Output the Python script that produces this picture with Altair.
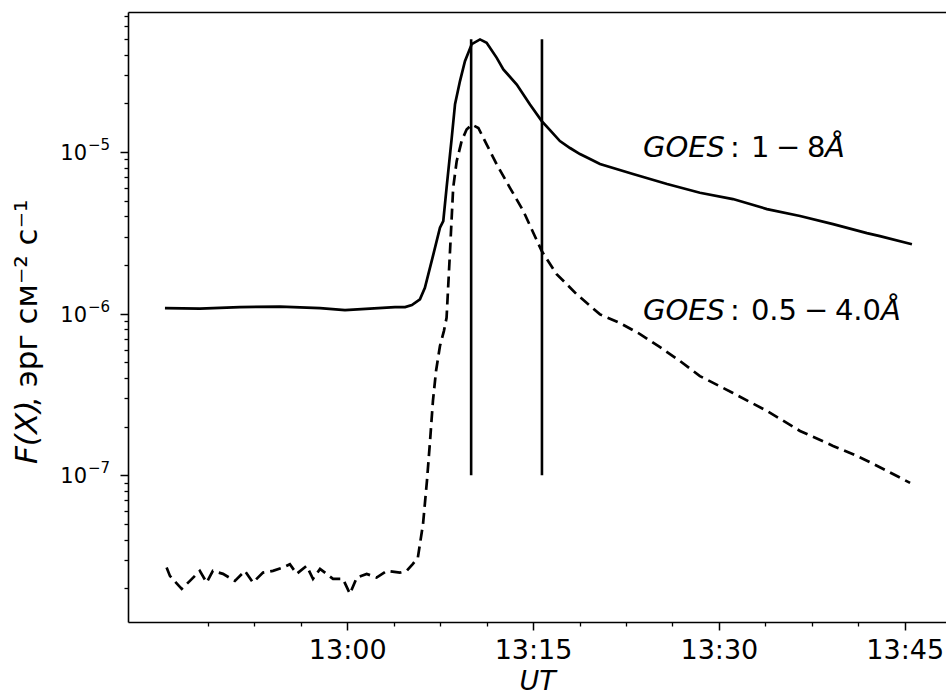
import altair as alt
import pandas as pd

# ---------------- data ----------------
# GOES 1-8 Å channel (solid line)
long_time = ["12:45:17", "12:48:06", "12:51:20", "12:54:34", "12:57:48", "12:59:49",
             "13:01:50", "13:03:51", "13:04:40", "13:05:13", "13:05:52", "13:06:16",
             "13:06:57", "13:07:29", "13:07:45", "13:08:01", "13:08:26", "13:08:42",
             "13:09:06", "13:09:30", "13:10:03", "13:10:43", "13:11:15", "13:12:04",
             "13:12:36", "13:13:41", "13:14:45", "13:15:42", "13:16:22", "13:17:10",
             "13:17:59", "13:18:47", "13:19:36", "13:20:24", "13:23:04", "13:25:49",
             "13:28:28", "13:31:08", "13:33:53", "13:36:33", "13:39:13", "13:41:57",
             "13:43:00", "13:45:35"]
long_flux = [1.083e-6, 1.075e-6, 1.099e-6, 1.106e-6, 1.083e-6, 1.053e-6,
             1.075e-6, 1.099e-6, 1.099e-6, 1.130e-6, 1.226e-6, 1.446e-6,
             2.328e-6, 3.401e-6, 3.741e-6, 6.01e-6, 1.226e-5, 1.98e-5,
             2.75e-5, 3.65e-5, 4.66e-5, 4.98e-5, 4.75e-5, 3.83e-5,
             3.25e-5, 2.62e-5, 1.97e-5, 1.556e-5, 1.367e-5, 1.17e-5,
             1.06e-5, 9.72e-6, 9.06e-6, 8.43e-6, 7.31e-6, 6.34e-6,
             5.60e-6, 5.12e-6, 4.44e-6, 4.02e-6, 3.58e-6, 3.15e-6,
             3.02e-6, 2.69e-6]

# GOES 0.5-4.0 Å channel (dashed line)
short_time = ["12:45:25", "12:45:41", "12:46:38", "12:47:18", "12:48:06", "12:48:39",
              "12:49:09", "12:49:58", "12:50:56", "12:51:44", "12:52:23", "12:53:12",
              "12:54:00", "12:54:48", "12:55:22", "12:55:55", "12:56:43", "12:57:14",
              "12:57:48", "12:58:51", "12:59:39", "13:00:13", "13:00:46", "13:01:34",
              "13:02:22", "13:03:11", "13:04:15", "13:04:48", "13:05:18", "13:05:42",
              "13:06:07", "13:06:26", "13:06:41", "13:06:55", "13:07:10", "13:07:29",
              "13:07:48", "13:08:01", "13:08:17", "13:08:33", "13:08:50", "13:09:14",
              "13:09:38", "13:10:03", "13:10:35", "13:11:15", "13:12:04", "13:13:08",
              "13:14:13", "13:15:42", "13:16:54", "13:18:31", "13:20:24", "13:22:01",
              "13:23:38", "13:25:15", "13:26:52", "13:28:28", "13:31:08", "13:33:53",
              "13:36:33", "13:39:13", "13:40:50", "13:41:57", "13:43:34", "13:45:26"]
short_flux = [2.685e-8, 2.384e-8, 1.982e-8, 2.221e-8, 2.561e-8, 2.168e-8,
              2.561e-8, 2.454e-8, 2.221e-8, 2.561e-8, 2.168e-8, 2.500e-8,
              2.561e-8, 2.685e-8, 2.818e-8, 2.454e-8, 2.750e-8, 2.285e-8,
              2.635e-8, 2.285e-8, 2.285e-8, 1.846e-8, 2.328e-8, 2.454e-8,
              2.328e-8, 2.561e-8, 2.500e-8, 2.561e-8, 2.831e-8, 3.094e-8,
              5.003e-8, 9.23e-8, 1.633e-7, 2.884e-7, 4.42e-7, 6.31e-7,
              7.80e-7, 9.43e-7, 2.34e-6, 6.01e-6, 8.79e-6, 1.17e-5,
              1.38e-5, 1.48e-5, 1.41e-5, 1.117e-5, 8.39e-6, 6.01e-6,
              4.31e-6, 2.44e-6, 1.758e-6, 1.32e-6, 9.90e-7, 8.75e-7,
              7.48e-7, 6.21e-7, 5.09e-7, 4.11e-7, 3.23e-7, 2.50e-7,
              1.88e-7, 1.52e-7, 1.35e-7, 1.23e-7, 1.065e-7, 8.97e-8]

# vertical marker lines
marker_time = ["13:10:00", "13:15:43"]
marker_low = [1e-7, 1e-7]
marker_high = [5.0e-5, 5.0e-5]

# axis ticks
x_major = ["13:00", "13:15", "13:30", "13:45"]
x_minor = ["12:48:45", "12:52:30", "12:56:15", "13:03:45", "13:07:30", "13:11:15",
           "13:18:45", "13:22:30", "13:26:15", "13:33:45", "13:37:30", "13:41:15"]
x_range = ["12:42:18", "13:48:20"]
y_major = [1e-7, 1e-6, 1e-5]
y_major_base = ["10", "10", "10"]
y_major_exp = ["−7", "−6", "−5"]
y_minor = [m * 10.0 ** e for e in (-8, -7, -6) for m in range(2, 10)] + \
          [m * 1e-5 for m in range(2, 8)]
y_range = [1.236e-8, 7.36e-5]

# annotations
label_long = ["GOES", ":", "1", "−", "8", "Å"]
label_long_at = ("13:23:52", 9.31e-6)
label_short = ["GOES", ":", "0.5", "−", "4.0", "Å"]
label_short_at = ("13:23:52", 9.09e-7)
y_title = ["F(X)", ", эрг см⁻² с⁻¹"]
x_title = "UT"


def minutes(s):
    parts = [int(p) for p in s.split(":")]
    if len(parts) == 2:
        parts.append(0)
    h, m, sec = parts
    return (h - 13) * 60 + m + sec / 60.0


FONT = "DejaVu Sans"
W, H = 818, 610

xs = alt.Scale(domain=[minutes(x_range[0]), minutes(x_range[1])], nice=False, zero=False)
ys = alt.Scale(type="log", domain=y_range, nice=False)

long_df = pd.DataFrame({"t": [minutes(s) for s in long_time], "v": long_flux})
short_df = pd.DataFrame({"t": [minutes(s) for s in short_time], "v": short_flux})
mark_df = pd.DataFrame({"t": [minutes(s) for s in marker_time], "lo": marker_low, "hi": marker_high})
ylab_df = pd.DataFrame({"v": y_major, "base": y_major_base, "exp": y_major_exp})

xmaj_vals = [minutes(s) for s in x_major]
x_expr = " : ".join(f"datum.value == {v:g} ? '{lab}'" for v, lab in zip(xmaj_vals, x_major)) + " : ''"

major_x = alt.Axis(orient="bottom", values=xmaj_vals, labelExpr=x_expr, tickSize=8, tickWidth=1.5,
                   tickColor="black", domainColor="black", domainWidth=1.6, labelFont=FONT,
                   labelFontSize=27, labelColor="black", labelPadding=7, labelFlush=False,
                   labelOverlap=False, grid=False, title=x_title, titleFont=FONT,
                   titleFontSize=27, titleFontStyle="italic", titleFontWeight="normal",
                   titleColor="black", titlePadding=5)
minor_x = alt.Axis(orient="bottom", values=[minutes(s) for s in x_minor], labels=False, domain=False,
                   tickSize=4, tickWidth=1.3, tickColor="black", grid=False, title=None)
top_x = alt.Axis(orient="top", labels=False, ticks=False, domain=True, domainColor="black",
                 domainWidth=1.6, grid=False, title=None)
major_y = alt.Axis(orient="left", values=y_major, labels=False, tickSize=8, tickWidth=1.5,
                   tickColor="black", domainColor="black", domainWidth=1.6, grid=False, title=None)
minor_y = alt.Axis(orient="left", values=y_minor, labels=False, domain=False, tickSize=4,
                   tickWidth=1.3, tickColor="black", grid=False, title=None)

solid = alt.Chart(long_df).mark_line(color="black", strokeWidth=2.7).encode(
    x=alt.X("t:Q", scale=xs, axis=major_x),
    y=alt.Y("v:Q", scale=ys, axis=major_y),
)
dashed = alt.Chart(short_df).mark_line(color="black", strokeWidth=2.7, strokeDash=[11, 6]).encode(
    x=alt.X("t:Q", scale=xs, axis=minor_x),
    y=alt.Y("v:Q", scale=ys, axis=minor_y),
)
frame = alt.Chart(long_df).mark_point(opacity=0).encode(
    x=alt.X("t:Q", scale=xs, axis=top_x),
    y=alt.Y("v:Q", scale=ys, axis=None),
)
rules = alt.Chart(mark_df).mark_rule(color="black", strokeWidth=2.6).encode(
    x=alt.X("t:Q", scale=xs, axis=None),
    y=alt.Y("lo:Q", scale=ys, axis=None),
    y2="hi:Q",
)

# y tick labels drawn as 10 with a raised exponent
ylab_base = alt.Chart(ylab_df).mark_text(align="right", baseline="alphabetic", dy=8, font=FONT,
                                         fontSize=21, color="black").encode(
    x=alt.value(-41), y=alt.Y("v:Q", scale=ys, axis=None), text="base:N")
ylab_exp = alt.Chart(ylab_df).mark_text(align="left", baseline="alphabetic", dy=-2, font=FONT,
                                        fontSize=15, color="black").encode(
    x=alt.value(-40), y=alt.Y("v:Q", scale=ys, axis=None), text="exp:N")


def piece_layers(pieces, at, offsets, styles, size):
    df = pd.DataFrame({"t": [minutes(at[0])], "v": [at[1]]})
    out = []
    for txt, dx, st in zip(pieces, offsets, styles):
        out.append(alt.Chart(df).mark_text(text=txt, dx=dx, align="left", baseline="alphabetic",
                                           font=FONT, fontSize=size, fontStyle=st, color="black").encode(
            x=alt.X("t:Q", scale=xs, axis=None),
            y=alt.Y("v:Q", scale=ys, axis=None),
        ))
    return out


styles = ["italic", "normal", "normal", "normal", "normal", "italic"]
ann = piece_layers(label_long, label_long_at, [0, 87, 108, 133, 164, 182], styles, 29)
ann += piece_layers(label_short, label_short_at, [0, 87, 108, 161, 192, 238], styles, 29)

ttl_df = pd.DataFrame({"k": [0]})
ytitle = [
    alt.Chart(ttl_df).mark_text(text=y_title[0], angle=270, align="left", baseline="middle",
                                font=FONT, fontSize=31, fontStyle="italic", color="black").encode(
        x=alt.value(-100), y=alt.value(452)),
    alt.Chart(ttl_df).mark_text(text=y_title[1], angle=270, align="left", baseline="middle",
                                font=FONT, fontSize=31, color="black").encode(
        x=alt.value(-100), y=alt.value(395)),
]

chart = alt.layer(solid, dashed, frame, rules, ylab_base, ylab_exp, *ann, *ytitle).resolve_axis(
    x="independent", y="independent"
).resolve_scale(x="shared", y="shared").properties(
    width=W, height=H, autosize=alt.AutoSizeParams(type="none"),
    padding={"left": 128, "top": 12, "right": 0, "bottom": 76},
    background="white",
).configure_view(stroke=None)

chart.save("out.html", embed_options={"renderer": "svg", "actions": False})
